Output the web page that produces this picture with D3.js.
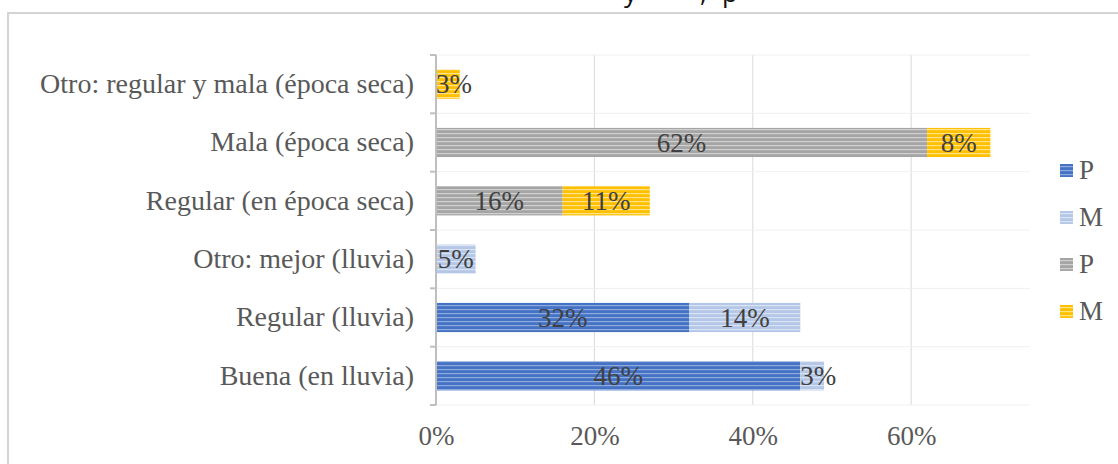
<!DOCTYPE html>
<html>
<head>
<meta charset="utf-8">
<script src="https://cdn.jsdelivr.net/npm/d3@7"></script>
<style>
  body { margin: 0; background: #fff; }
  svg { display: block; }
</style>
</head>
<body>
<div class="chart"></div>
<script>
// Categories, bottom to top as in the picture
var categories = [
  "Buena (en lluvia)",
  "Regular (lluvia)",
  "Otro: mejor (lluvia)",
  "Regular (en época seca)",
  "Mala (época seca)",
  "Otro: regular y mala (época seca)"
];

// Series values (fractions)
var seriesNames = ["P", "M", "P", "M"];
var lluviaP = [0.46, 0.32, 0, 0, 0, 0];
var lluviaM = [0.03, 0.14, 0.05, 0, 0, 0];
var secaP = [0, 0, 0, 0.16, 0.62, 0];
var secaM = [0, 0, 0, 0.11, 0.08, 0.03];
var seriesColors = ["#4472C4", "#B4C7E7", "#A5A5A5", "#FFC000"];
var stripeColors = ["#8FAADC", "#DAE3F3", "#D0D0D0", "#FFE28A"];

var xTicks = [0, 0.2, 0.4, 0.6];

var svgWidth = 1118;
var svgHeight = 464;

var chartMargin = { top: 55, right: 88, bottom: 59, left: 436 };
var chartWidth = svgWidth - chartMargin.left - chartMargin.right;
var chartHeight = svgHeight - chartMargin.top - chartMargin.bottom;

var serif = "'Liberation Serif', 'Times New Roman', Times, serif";

var svg = d3.select(".chart")
  .append("svg")
  .attr("width", svgWidth)
  .attr("height", svgHeight);

// striped fills
var defs = svg.append("defs");
seriesColors.forEach(function(c, i) {
  var pat = defs.append("pattern")
    .attr("id", "stripe" + i)
    .attr("patternUnits", "userSpaceOnUse")
    .attr("width", 8)
    .attr("height", 4);
  pat.append("rect").attr("width", 8).attr("height", 4).attr("fill", c);
  pat.append("rect").attr("y", 2).attr("width", 8).attr("height", 1.2).attr("fill", stripeColors[i]);
});

// outer chart border
svg.append("rect")
  .attr("x", 8).attr("y", 13)
  .attr("width", 1130).attr("height", 480)
  .attr("fill", "none")
  .attr("stroke", "#d4d4d4")
  .attr("stroke-width", 2);

// cut-off title fragments at the very top
var title = svg.append("g")
  .attr("font-family", "'Open Sans', sans-serif")
  .attr("font-size", 26)
  .attr("fill", "#111");
title.append("text").attr("x", 624).attr("y", 2).text("y");
title.append("text").attr("x", 700).attr("y", 2).text(",");
title.append("text").attr("x", 722).attr("y", 2).text("p");

var chartGroup = svg.append("g")
  .attr("transform", `translate(${chartMargin.left}, ${chartMargin.top})`);

var xScale = d3.scaleLinear()
  .domain([0, 0.75])
  .range([0, chartWidth]);

var yBand = d3.scaleBand()
  .domain(categories)
  .range([chartHeight, 0])
  .paddingInner(0.5)
  .paddingOuter(0.25);

// vertical gridlines
chartGroup.selectAll(".grid")
  .data(xTicks.slice(1))
  .enter()
  .append("line")
  .attr("x1", d => xScale(d))
  .attr("x2", d => xScale(d))
  .attr("y1", 0)
  .attr("y2", chartHeight)
  .attr("stroke", "#d9d9d9")
  .attr("stroke-width", 1);

// faint horizontal lines at category boundaries
var step = chartHeight / categories.length;
chartGroup.selectAll(".hgrid")
  .data(d3.range(categories.length + 1))
  .enter()
  .append("line")
  .attr("x1", 0)
  .attr("x2", chartWidth)
  .attr("y1", d => d * step)
  .attr("y2", d => d * step)
  .attr("stroke", "#f0f0f0")
  .attr("stroke-width", 1);

// stack the series
var table = categories.map(function(c, i) {
  return { cat: c, s0: lluviaP[i], s1: lluviaM[i], s2: secaP[i], s3: secaM[i] };
});
var stack = d3.stack().keys(["s0", "s1", "s2", "s3"]);
var stacked = stack(table);

var layers = chartGroup.selectAll(".layer")
  .data(stacked)
  .enter()
  .append("g")
  .attr("class", "layer")
  .attr("fill", (d, i) => "url(#stripe" + i + ")");

layers.selectAll("rect")
  .data(d => d.filter(p => p[1] - p[0] > 0))
  .enter()
  .append("rect")
  .attr("x", d => xScale(d[0]))
  .attr("y", d => yBand(d.data.cat))
  .attr("width", d => xScale(d[1]) - xScale(d[0]))
  .attr("height", yBand.bandwidth());

// data labels
layers.selectAll("text")
  .data(d => d.filter(p => p[1] - p[0] > 0))
  .enter()
  .append("text")
  .attr("x", d => xScale((d[0] + d[1]) / 2))
  .attr("y", d => yBand(d.data.cat) + yBand.bandwidth() / 2 + 9)
  .attr("text-anchor", function(d) { return (xScale(d[1]) - xScale(d[0]) < 30) ? "start" : "middle"; })
  .attr("dx", function(d) { return (xScale(d[1]) - xScale(d[0]) < 30) ? -(xScale(d[1]) - xScale(d[0])) / 2 : 0; })
  .attr("font-family", serif)
  .attr("font-size", 27)
  .attr("fill", "#404040")
  .text(d => Math.round((d[1] - d[0]) * 100) + "%");

// axes
var leftAxis = d3.axisLeft(yBand).tickSize(0).tickPadding(22);
var bottomAxis = d3.axisBottom(xScale).tickValues(xTicks).tickFormat(d3.format(".0%")).tickSize(0).tickPadding(21);

var yAxisG = chartGroup.append("g").call(leftAxis);
yAxisG.select(".domain").remove();
yAxisG.selectAll("text")
  .attr("font-family", serif)
  .attr("font-size", 28)
  .attr("fill", "#595959");

// category axis line with tick marks at boundaries
chartGroup.append("line")
  .attr("x1", 0).attr("x2", 0)
  .attr("y1", 0).attr("y2", chartHeight)
  .attr("stroke", "#bfbfbf").attr("stroke-width", 2);
chartGroup.selectAll(".ctick")
  .data(d3.range(categories.length + 1))
  .enter()
  .append("line")
  .attr("x1", -6).attr("x2", 0)
  .attr("y1", d => d * step).attr("y2", d => d * step)
  .attr("stroke", "#bfbfbf").attr("stroke-width", 2);

var xAxisG = chartGroup.append("g")
  .attr("transform", `translate(0, ${chartHeight})`)
  .call(bottomAxis);
xAxisG.select(".domain").remove();
xAxisG.selectAll("text")
  .attr("font-family", serif)
  .attr("font-size", 27)
  .attr("fill", "#595959");

// legend
var legend = svg.append("g")
  .attr("transform", "translate(1060, 164)");
var items = legend.selectAll(".item")
  .data(seriesNames)
  .enter()
  .append("g")
  .attr("transform", (d, i) => `translate(0, ${i * 47})`);
items.append("rect")
  .attr("width", 13).attr("height", 13)
  .attr("fill", (d, i) => "url(#stripe" + i + ")");
items.append("text")
  .attr("x", 19).attr("y", 15)
  .attr("font-family", serif)
  .attr("font-size", 27)
  .attr("fill", "#595959")
  .text(d => d);
</script>
</body>
</html>
